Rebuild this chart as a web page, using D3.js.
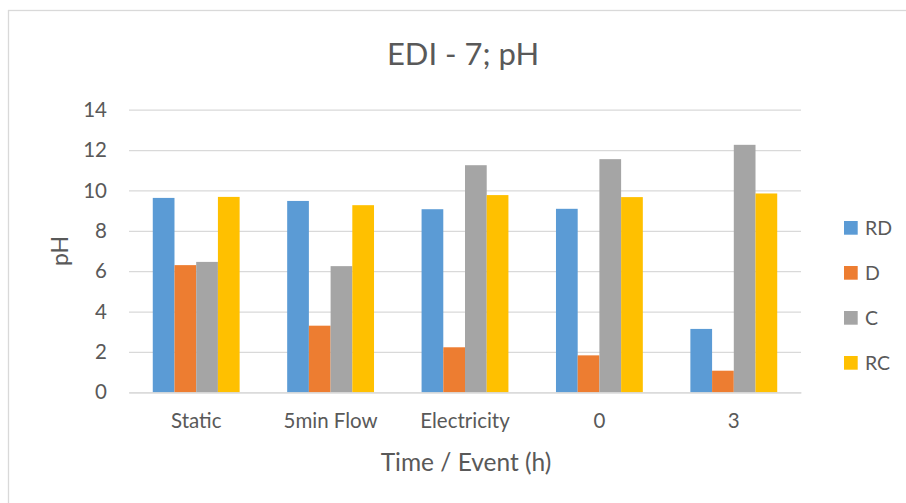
<!DOCTYPE html>
<html>
<head>
<meta charset="utf-8">
<script src="https://cdn.jsdelivr.net/npm/d3@7"></script>
<style>
  html, body { margin: 0; padding: 0; background: #fff; }
  svg { display: block; font-family: Lato, "Open Sans", sans-serif; }
</style>
</head>
<body>
<svg id="chart" width="906" height="503"></svg>
<script>
// Chart data
const categories = ["Static", "5min Flow", "Electricity", "0", "3"];
const seriesNames = ["RD", "D", "C", "RC"];
const RD = [9.63, 9.48, 9.07, 9.09, 3.14];
const D  = [6.30, 3.30, 2.23, 1.83, 1.07];
const C  = [6.46, 6.25, 11.25, 11.55, 12.26];
const RC = [9.68, 9.27, 9.77, 9.67, 9.85];
const yTicks = [0, 2, 4, 6, 8, 10, 12, 14];
const colors = ["#5B9BD5", "#ED7D31", "#A5A5A5", "#FFC000"];

const seriesValues = [RD, D, C, RC];

const svg = d3.select("#chart");
const textColor = "#595959";
const gridColor = "#D9D9D9";

// Outer chart frame
svg.append("rect")
  .attr("x", 8.5).attr("y", 10.5)
  .attr("width", 906).attr("height", 503)
  .attr("fill", "#fff")
  .attr("stroke", gridColor).attr("stroke-width", 1.3);

const plot = { left: 129, right: 801, top: 109.7, bottom: 392.3 };

const x0 = d3.scaleBand().domain(categories).range([plot.left, plot.right]).paddingInner(0).paddingOuter(0);
const gapRatio = 2.19; // gap between groups, in bar widths
const barW = x0.bandwidth() / (seriesNames.length + gapRatio);
const groupW = barW * seriesNames.length;
const x1 = d3.scaleBand().domain(seriesNames).range([0, groupW]);
const y = d3.scaleLinear().domain([0, 14]).range([plot.bottom, plot.top]);

// Horizontal gridlines
const yAxis = d3.axisLeft(y).tickValues(yTicks).tickSize(-(plot.right - plot.left)).tickPadding(22);
const gy = svg.append("g").attr("transform", `translate(${plot.left},0)`).call(yAxis);
gy.select(".domain").remove();
gy.selectAll(".tick line").attr("stroke", gridColor).attr("stroke-width", 1.3);
gy.selectAll(".tick text")
  .attr("fill", textColor).attr("font-size", 20.5)
  .attr("font-family", "Lato, sans-serif");

// Bars
const groups = svg.append("g").selectAll("g")
  .data(categories)
  .join("g")
  .attr("transform", d => `translate(${x0(d) + (x0.bandwidth() - groupW) / 2},0)`);

groups.selectAll("rect")
  .data((cat, i) => seriesNames.map((s, k) => ({ s, k, v: seriesValues[k][i] })))
  .join("rect")
  .attr("x", d => x1(d.s))
  .attr("width", x1.bandwidth())
  .attr("y", d => y(d.v))
  .attr("height", d => y(0) - y(d.v))
  .attr("fill", d => colors[d.k]);

// Category axis
const xAxis = d3.axisBottom(x0).tickSize(0).tickPadding(21);
const gx = svg.append("g").attr("transform", `translate(0,${plot.bottom})`).call(xAxis);
gx.select(".domain").attr("stroke", gridColor).attr("stroke-width", 1.3);
gx.selectAll(".tick text")
  .attr("fill", textColor).attr("font-size", 20.5)
  .attr("font-family", "Lato, sans-serif");

// Titles
svg.append("text")
  .attr("x", 463).attr("y", 65)
  .attr("text-anchor", "middle")
  .attr("fill", textColor).attr("font-size", 31)
  .text("EDI - 7; pH");

svg.append("text")
  .attr("x", 466).attr("y", 471)
  .attr("text-anchor", "middle")
  .attr("fill", textColor).attr("font-size", 24.5)
  .text("Time / Event (h)");

svg.append("text")
  .attr("transform", "translate(68,251) rotate(-90)")
  .attr("text-anchor", "middle")
  .attr("fill", textColor).attr("font-size", 23)
  .text("pH");

// Legend
const legend = svg.append("g").selectAll("g")
  .data(seriesNames)
  .join("g")
  .attr("transform", (d, i) => `translate(844,${221 + i * 45})`);
legend.append("rect")
  .attr("width", 13.7).attr("height", 13.7)
  .attr("fill", (d, i) => colors[i]);
legend.append("text")
  .attr("x", 21).attr("y", 7)
  .attr("dy", "0.35em")
  .attr("fill", textColor).attr("font-size", 19.5)
  .text(d => d);
</script>
</body>
</html>
